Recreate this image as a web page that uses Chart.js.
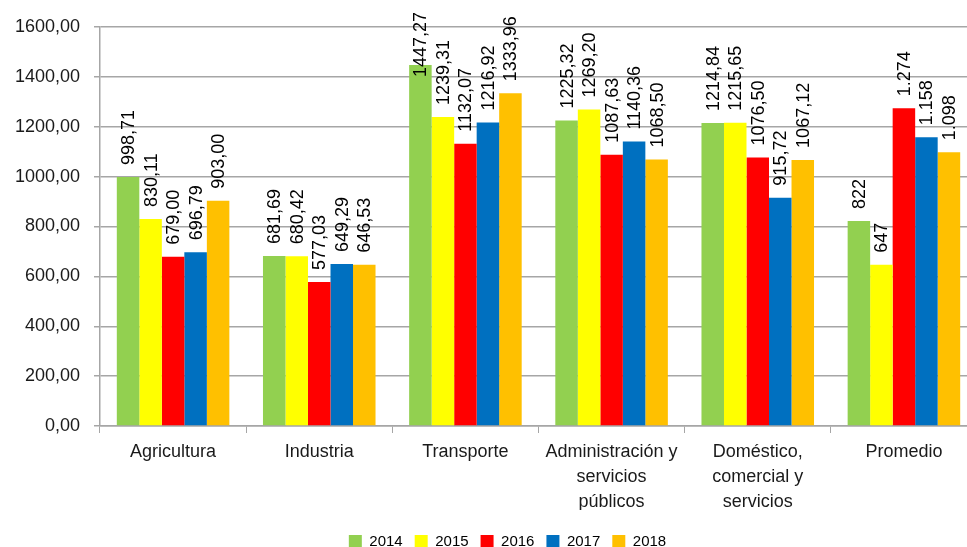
<!DOCTYPE html>
<html>
<head>
<meta charset="utf-8">
<script src="https://cdn.jsdelivr.net/npm/chart.js@4"></script>
<style>
  html, body { margin: 0; background: #fff; overflow: hidden; }
</style>
</head>
<body>
<!-- the plot in the original runs slightly past the right edge, so the canvas is a bit wider than the window -->
<canvas id="energyChart" width="977" height="547"></canvas>
<script>
// Chart values
var categories = [
  'Agricultura',
  'Industria',
  'Transporte',
  ['Administración y', 'servicios', 'públicos'],
  ['Doméstico,', 'comercial y', 'servicios'],
  'Promedio'
];
var years = ['2014', '2015', '2016', '2017', '2018'];
var values2014 = [998.71, 681.69, 1447.27, 1225.32, 1214.84, 822];
var values2015 = [830.11, 680.42, 1239.31, 1269.20, 1215.65, 647];
var values2016 = [679.00, 577.03, 1132.07, 1087.63, 1076.50, 1274];
var values2017 = [696.79, 649.29, 1216.92, 1140.36, 915.72, 1158];
var values2018 = [903.00, 646.53, 1333.96, 1068.50, 1067.12, 1098];
// decimals shown on labels per category (Promedio is shown as whole numbers)
var labelDecimals = [2, 2, 2, 2, 2, 0];
var yTicks = [0, 200, 400, 600, 800, 1000, 1200, 1400, 1600];

var colors = ['#92D050', '#FFFF00', '#FF0000', '#0070C0', '#FFC000'];
var FONT = '"Liberation Sans", Arial, sans-serif';

function formatValue(v, decimals) {
  if (decimals === 0) {
    return Math.round(v).toString().replace(/\B(?=(\d{3})+(?!\d))/g, '.');
  }
  return v.toFixed(decimals).replace('.', ',');
}

// draws the rotated value labels above each bar
var valueLabels = {
  id: 'valueLabels',
  afterDatasetsDraw: function (chart) {
    var ctx = chart.ctx;
    ctx.save();
    ctx.font = '18px ' + FONT;
    ctx.fillStyle = '#000';
    ctx.textAlign = 'left';
    ctx.textBaseline = 'middle';
    chart.data.datasets.forEach(function (ds, i) {
      var meta = chart.getDatasetMeta(i);
      meta.data.forEach(function (bar, j) {
        var text = formatValue(ds.data[j], labelDecimals[j]);
        var w = ctx.measureText(text).width;
        var start = bar.y - 12;
        // labels that would leave the top get pushed down into the bar
        if (start - w < 12) start = w + 12;
        ctx.save();
        ctx.translate(bar.x + 1, start);
        ctx.rotate(-Math.PI / 2);
        ctx.fillText(text, 0, 0);
        ctx.restore();
      });
    });
    ctx.restore();
  }
};

// nudge the legend down and right to where it sits in the original
var legendShift = {
  id: 'legendShift',
  afterLayout: function (chart) {
    var lg = chart.legend;
    lg.top += 12; lg.bottom += 12;
    lg.left += 19; lg.right += 19;
  }
};

var allValues = [values2014, values2015, values2016, values2017, values2018];

var energyChart = new Chart(document.getElementById('energyChart').getContext('2d'), {
  type: 'bar',
  data: {
    labels: categories,
    datasets: years.map(function (y, i) {
      return {
        label: y,
        data: allValues[i],
        backgroundColor: colors[i],
        borderWidth: 0,
        categoryPercentage: 0.77,
        barPercentage: 1
      };
    })
  },
  options: {
    responsive: false,
    animation: false,
    layout: { padding: { top: 27, right: 0, left: 0, bottom: 0 } },
    plugins: {
      legend: {
        position: 'bottom',
        labels: {
          boxWidth: 13,
          boxHeight: 13,
          padding: 12,
          color: '#000',
          font: { family: FONT, size: 15 }
        }
      },
      tooltip: { enabled: false }
    },
    scales: {
      x: {
        grid: {
          offset: true,
          drawOnChartArea: false,
          drawTicks: true,
          tickLength: 7,
          color: '#A6A6A6'
        },
        border: { color: '#A6A6A6', width: 1.5 },
        ticks: {
          maxRotation: 0,
          padding: 6,
          color: '#1a1a1a',
          font: { family: FONT, size: 18, lineHeight: 1.4 }
        },
        afterFit: function (scale) { scale.height = 84; }
      },
      y: {
        min: 0,
        max: 1600,
        afterBuildTicks: function (scale) {
          scale.ticks = yTicks.map(function (v) { return { value: v }; });
        },
        grid: { color: '#A6A6A6', lineWidth: 1.5, tickLength: 6 },
        border: { color: '#A6A6A6', width: 1.5 },
        ticks: {
          padding: 14,
          color: '#1a1a1a',
          font: { family: FONT, size: 18 },
          callback: function (v) { return formatValue(v, 2); }
        },
        afterFit: function (scale) { scale.width = 100; }
      }
    }
  },
  plugins: [valueLabels, legendShift]
});
</script>
</body>
</html>
